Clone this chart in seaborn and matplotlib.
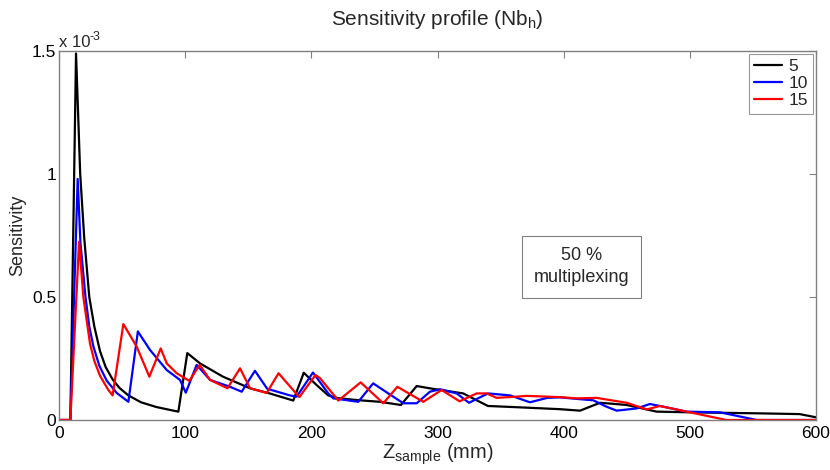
"""
plot.py

Sensitivity profile along the sample axis for three multiplexing levels.
"""

import pandas as pd
import matplotlib
matplotlib.use('Agg')
import matplotlib.pyplot as plt
import matplotlib.transforms as mtrans
import seaborn as sns

#=======================================================================
#  Data (z in mm, sensitivity in units of 1e-3)
#=======================================================================

z_5 = [0, 9, 13.5, 16.8, 20, 24, 28, 32.5, 37, 42.5, 48, 55, 65, 77, 87,
       94.6, 101.7, 111.8, 130, 151.4, 167, 185.7, 194, 204.2, 213.4, 221,
       236, 254.4, 271, 283.5, 296, 320.4, 328, 340, 362.8, 397, 413,
       428.8, 434, 450, 473.7, 502.7, 555.6, 587, 600]
s_5 = [0, 0, 1.49, 1.0, 0.74, 0.5, 0.38, 0.28, 0.215, 0.165, 0.13, 0.1,
       0.072, 0.053, 0.042, 0.034, 0.272, 0.23, 0.176, 0.129, 0.108, 0.079,
       0.192, 0.142, 0.10, 0.089, 0.081, 0.074, 0.061, 0.138, 0.127, 0.108,
       0.088, 0.057, 0.052, 0.044, 0.038, 0.07, 0.068, 0.061, 0.034, 0.031,
       0.027, 0.024, 0.011]

z_10 = [0, 9, 14.8, 17, 21, 24, 27.2, 32, 37.8, 45.7, 55, 62.5, 72.1, 85.4,
        95.9, 100.5, 109.1, 119.7, 135.5, 144.8, 155.3, 165, 183, 188.4,
        201.3, 213.4, 217.4, 237.2, 249, 261, 272.9, 283.5, 294, 302, 315.2,
        325, 340, 357.5, 373.3, 387, 397, 410, 423.5, 434, 442, 457.8, 468.4,
        476.3, 497.5, 524, 553, 600]
s_10 = [0, 0, 0.98, 0.72, 0.5, 0.38, 0.3, 0.22, 0.16, 0.11, 0.074, 0.36,
        0.285, 0.203, 0.163, 0.111, 0.224, 0.163, 0.135, 0.115, 0.2, 0.127,
        0.10, 0.095, 0.193, 0.108, 0.088, 0.074, 0.149, 0.108, 0.068, 0.068,
        0.115, 0.125, 0.108, 0.07, 0.108, 0.10, 0.072, 0.09, 0.092, 0.086,
        0.08, 0.054, 0.038, 0.047, 0.065, 0.057, 0.034, 0.031, 0.0, 0.0]

z_15 = [0, 9, 15.9, 19.3, 24.6, 28, 32.5, 39.1, 42.5, 51, 61.6, 71.6, 80.6,
        85.4, 93.3, 103.3, 111.5, 119.7, 133.5, 143.5, 151.4, 164.6, 174,
        190.5, 203.3, 206.9, 221.4, 239.1, 257, 268.2, 288.7, 303.3, 317.5,
        331, 339, 346.9, 362.8, 370.7, 397, 410, 426, 436.7, 450, 465.8,
        476.3, 497.5, 529, 600]
s_15 = [0, 0, 0.725, 0.5, 0.31, 0.24, 0.18, 0.122, 0.10, 0.39, 0.298, 0.176,
        0.291, 0.23, 0.19, 0.159, 0.224, 0.163, 0.129, 0.21, 0.129, 0.11,
        0.19, 0.093, 0.183, 0.17, 0.079, 0.153, 0.068, 0.135, 0.074, 0.122,
        0.076, 0.108, 0.108, 0.09, 0.095, 0.098, 0.093, 0.088, 0.09, 0.081,
        0.07, 0.043, 0.057, 0.034, 0.0, 0.0]

series = {'5': (z_5, s_5), '10': (z_10, s_10), '15': (z_15, s_15)}
colors = {'5': 'black', '10': '#0000ff', '15': '#ff0000'}

x_ticks = [0, 100, 200, 300, 400, 500, 600]
y_ticks = [0, 0.5, 1.0, 1.5]
y_labels = ['0', '0.5', '1', '1.5']

#=======================================================================
#  Build a long dataframe for seaborn
#=======================================================================

frames = []
for k, (z, s) in series.items():
    frames.append(pd.DataFrame({'z': z, 'sens': s, 'N': k}))
data = pd.concat(frames, ignore_index=True)

#=======================================================================
#  Draw
#=======================================================================

sns.set_style('white')
plt.rcParams['font.family'] = ['Liberation Sans', 'DejaVu Sans']
plt.rcParams['mathtext.fontset'] = 'custom'
plt.rcParams['mathtext.rm'] = 'Liberation Sans'
plt.rcParams['mathtext.it'] = 'Liberation Sans'

fig = plt.figure(figsize=(8.3, 4.7), dpi=100)
ax = fig.add_axes([59/830, 50/470, 757/830, 369/470])

sns.lineplot(data=data, x='z', y='sens', hue='N', palette=colors,
             sort=False, estimator=None, lw=1.6, ax=ax)

ax.set_xlim(0, 600)
ax.set_ylim(0, 1.5)
ax.set_xticks(x_ticks)
ax.set_yticks(y_ticks)
ax.set_yticklabels(y_labels)

gray = '#808080'
for sp in ax.spines.values():
    sp.set_color(gray)
    sp.set_linewidth(1.0)

ax.tick_params(direction='in', length=5, width=0.8, color=gray,
               top=True, right=True, labelsize=12.5, labelcolor='black')
ax.tick_params(axis='x', pad=4)
ax.tick_params(axis='y', pad=2)

ax.set_title('Sensitivity profile (Nb$_{\\rm h}$)', fontsize=15, pad=19)
ax.set_xlabel('Z$_{\\rm sample}$ (mm)', fontsize=14.5, labelpad=1)
ax.set_ylabel('Sensitivity', fontsize=13, labelpad=4)

#
#  Exponent label at top left, with a plain hyphen
#

ax.text(0.0, 1.004, 'x 10', transform=ax.transAxes,
        fontsize=12, ha='left', va='bottom')
sup = mtrans.offset_copy(ax.transAxes, fig=fig, x=31, y=7, units='dots')
ax.text(0.0, 1.004, '-3', transform=sup, fontsize=9,
        ha='left', va='bottom')

ax.text(0.69, 0.415, '50 %\nmultiplexing', transform=ax.transAxes,
        fontsize=13, ha='center', va='center', linespacing=1.4,
        bbox=dict(boxstyle='square,pad=0.65', fc='white', ec=gray, lw=0.8))

leg = ax.legend(loc='upper right', fontsize=12.5, frameon=True,
                fancybox=False, borderaxespad=0.15, handlelength=1.6,
                handletextpad=0.4, labelspacing=0.12, borderpad=0.3)
leg.get_frame().set_edgecolor(gray)
leg.get_frame().set_linewidth(0.8)

fig.savefig('out.png', dpi=100)
